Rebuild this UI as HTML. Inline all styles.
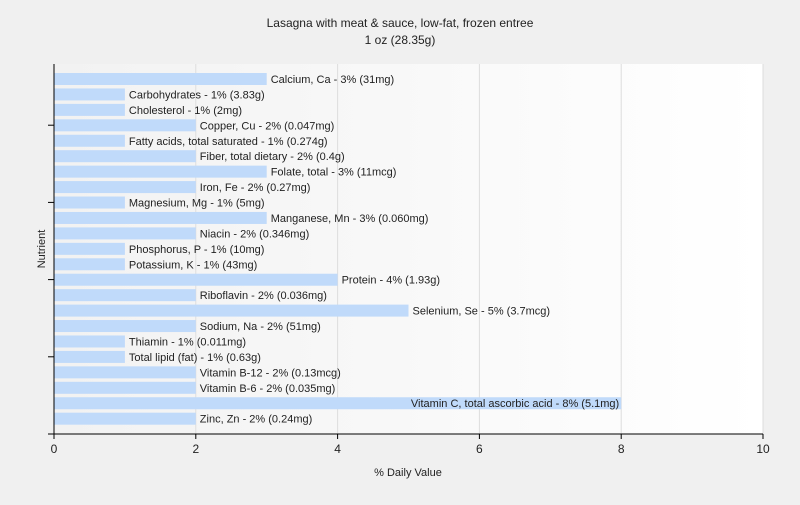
<!DOCTYPE html>
<html><head><meta charset="utf-8"><style>
body{margin:0;background:#f0f0f0;font-family:"Liberation Sans",sans-serif;}
svg text{font-family:"Liberation Sans",sans-serif;}
</style></head><body>
<svg id="c" width="800" height="500" xmlns="http://www.w3.org/2000/svg">
<defs><linearGradient id="bg" x1="0" y1="0" x2="1" y2="0"><stop offset="0" stop-color="#f2f2f2"/><stop offset="1" stop-color="#ffffff"/></linearGradient></defs>
<rect width="800" height="500" fill="#f0f0f0"/>
<rect x="54" y="64" width="709" height="370" fill="url(#bg)"/>
<text x="400" y="27" text-anchor="middle" font-size="12" fill="#222">Lasagna with meat &amp; sauce, low-fat, frozen entree</text>
<text x="400" y="44" text-anchor="middle" font-size="12" fill="#222">1 oz (28.35g)</text>
<text x="408" y="476" text-anchor="middle" font-size="11" fill="#222">% Daily Value</text>
<text transform="translate(45,249) rotate(-90)" text-anchor="middle" font-size="11" fill="#222">Nutrient</text>
<g id="grid"></g><g id="bars"></g><g id="axes"></g>
</svg>
<script>
const labels=["Calcium, Ca - 3% (31mg)","Carbohydrates - 1% (3.83g)","Cholesterol - 1% (2mg)","Copper, Cu - 2% (0.047mg)","Fatty acids, total saturated - 1% (0.274g)","Fiber, total dietary - 2% (0.4g)","Folate, total - 3% (11mcg)","Iron, Fe - 2% (0.27mg)","Magnesium, Mg - 1% (5mg)","Manganese, Mn - 3% (0.060mg)","Niacin - 2% (0.346mg)","Phosphorus, P - 1% (10mg)","Potassium, K - 1% (43mg)","Protein - 4% (1.93g)","Riboflavin - 2% (0.036mg)","Selenium, Se - 5% (3.7mcg)","Sodium, Na - 2% (51mg)","Thiamin - 1% (0.011mg)","Total lipid (fat) - 1% (0.63g)","Vitamin B-12 - 2% (0.13mcg)","Vitamin B-6 - 2% (0.035mg)","Vitamin C, total ascorbic acid - 8% (5.1mg)","Zinc, Zn - 2% (0.24mg)"];
const values=[3,1,1,2,1,2,3,2,1,3,2,1,1,4,2,5,2,1,1,2,2,8,2];
const xTicks=[0,2,4,6,8,10];
const NS="http://www.w3.org/2000/svg";
const X0=54,X1=763,Y0=64,Y1=434,P=15.44,BH=12,TOP=73;
const x=v=>X0+(v/10)*(X1-X0);
const y=i=>TOP+i*P;
function mk(t,a,p){const e=document.createElementNS(NS,t);for(const k in a)e.setAttribute(k,a[k]);p.appendChild(e);return e;}
const g=document.getElementById('grid'),b=document.getElementById('bars'),ax=document.getElementById('axes');
xTicks.forEach(t=>{
 if(t>0){const l=mk('line',{x1:x(t),x2:x(t),y1:Y0,y2:Y1,stroke:'#dddddd'},g);
 
 }
 const tk=mk('line',{x1:x(t),x2:x(t),y1:Y1,y2:Y1+5,stroke:'#000'},ax);
 
 
 const tx=mk('text',{x:x(t),y:Y1+19,'text-anchor':'middle','font-size':12,fill:'#222'},ax);
 tx.textContent=t;
 
 
});
values.forEach((v,i)=>{
 const r=mk('rect',{x:X0,y:y(i),width:x(v)-X0,height:BH,fill:'#c0dafa'},b);
 
 
 const t=mk('text',{x:x(v)+4,y:y(i)+10,'font-size':11,fill:'#222'},b);
 t.textContent=labels[i];
 
 
 const w=t.getComputedTextLength();
 if(x(v)+4+w>X1){t.setAttribute('x',x(v)-2);t.setAttribute('text-anchor','end');}
});
const ya=mk('line',{x1:X0,x2:X0,y1:Y0,y2:Y1,stroke:'#000'},ax);


const xa=mk('line',{x1:X0-6,x2:X1,y1:Y1,y2:Y1,stroke:'#000'},ax);


for(let k=1;k<=4;k++){const yy=Y1-k*5*P;
 const l=mk('line',{x1:X0-6,x2:X0,y1:yy,y2:yy,stroke:'#000'},ax);
 
 }
</script>
</body></html>
